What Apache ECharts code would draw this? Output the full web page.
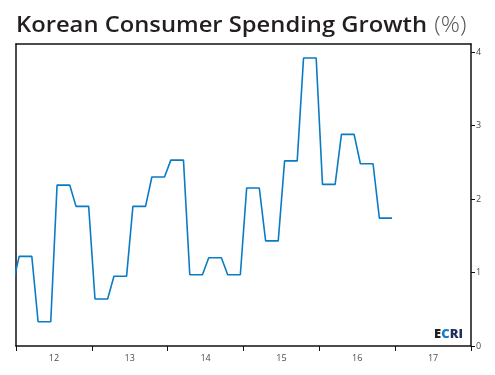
<!DOCTYPE html>
<html>
<head>
<meta charset="utf-8">
<script src="https://cdn.jsdelivr.net/npm/echarts@6/dist/echarts.min.js"></script>
<style>
  html, body { margin: 0; padding: 0; background: #fff; }
  #chart { width: 495px; height: 375px; }
</style>
</head>
<body>
<div id="chart"></div>
<script>
// 季度数据（%），从 2011Q4 开始
const startYear = 2011;
const startQuarter = 4;
const quarterValues = [
    0.84,
    1.22, 0.33, 2.19, 1.90,
    0.64, 0.95, 1.90, 2.30,
    2.53, 0.97, 1.20, 0.97,
    2.15, 1.43, 2.52, 3.92,
    2.20, 2.88, 2.48, 1.74
];
const yearLabels = ['12', '13', '14', '15', '16', '17'];
const yTicks = [0, 1, 2, 3, 4];

// 每个季度的值在三个月内保持不变（按月中位置绘制）
function buildMonthly() {
    const pts = [];
    quarterValues.forEach((v, i) => {
        const q = startQuarter - 1 + i;
        const year = startYear + Math.floor(q / 4);
        const firstMonth = (q % 4) * 3;
        for (let m = 0; m < 3; m++) {
            pts.push([year + (firstMonth + m + 0.5) / 12, v]);
        }
    });
    return pts;
}

const chart = echarts.init(document.getElementById('chart'));
const axisColor = '#111';
const labelColor = '#4a4a4a';

chart.setOption({
    animation: false,
    graphic: [{
        // 标题（横向略微拉宽以贴近原图字体）
        type: 'text',
        x: 16,
        y: 15,
        scaleX: 1.08,
        style: {
            text: '{a|Korean Consumer Spending Growth}  {b|(%)}',
            rich: {
                a: { fontFamily: 'Open Sans', fontSize: 22, fontWeight: 600, fill: '#231f20' },
                b: { fontFamily: 'Open Sans', fontSize: 22, fontWeight: 300, fill: '#555' }
            }
        }
    }, {
        type: 'text',
        right: 32,
        top: 328,
        style: {
            text: '{e|E}{c|C}{r|RI}',
            rich: {
                e: { fontFamily: 'Open Sans', fontSize: 13, fontWeight: 800, fill: '#231f20' },
                c: { fontFamily: 'Open Sans', fontSize: 13, fontWeight: 800, fill: '#1a7bc4' },
                r: { fontFamily: 'Open Sans', fontSize: 13, fontWeight: 800, fill: '#1d2f5a' }
            }
        }
    }],
    grid: { left: 16, right: 24, top: 44, bottom: 29 },
    xAxis: [{
        type: 'category',
        data: yearLabels,
        boundaryGap: true,
        position: 'bottom',
        axisLine: { lineStyle: { color: axisColor, width: 1.5 } },
        axisTick: { show: true, length: 5, lineStyle: { color: axisColor, width: 1 } },
        axisLabel: { color: labelColor, fontSize: 9, fontFamily: 'Open Sans', margin: 8 },
        splitLine: { show: false }
    }, {
        type: 'value',
        min: 2012,
        max: 2018,
        show: false
    }, {
        type: 'value',
        position: 'top',
        min: 2012,
        max: 2018,
        axisLine: { show: true, onZero: false, lineStyle: { color: axisColor, width: 1.5 } },
        axisTick: { show: false },
        axisLabel: { show: false },
        splitLine: { show: false }
    }],
    yAxis: [{
        type: 'value',
        position: 'right',
        min: 0,
        max: 4.11,
        interval: 1,
        axisLine: { show: true, lineStyle: { color: axisColor, width: 1.5 } },
        axisTick: { show: true, inside: false, length: 4, lineStyle: { color: axisColor } },
        axisLabel: {
            color: labelColor, fontSize: 9, fontFamily: 'Open Sans', margin: 5,
            showMaxLabel: false,
            formatter: v => (yTicks.includes(v) ? String(v) : '')
        },
        splitLine: { show: false }
    }, {
        type: 'value',
        position: 'left',
        min: 0,
        max: 4.11,
        axisLine: { show: true, onZero: false, lineStyle: { color: axisColor, width: 1.5 } },
        axisTick: { show: false },
        axisLabel: { show: false },
        splitLine: { show: false }
    }],
    series: [{
        type: 'line',
        xAxisIndex: 1,
        yAxisIndex: 0,
        data: buildMonthly(),
        showSymbol: false,
        clip: true,
        lineStyle: { color: '#0a7cc4', width: 1.6 }
    }]
});
</script>
</body>
</html>
